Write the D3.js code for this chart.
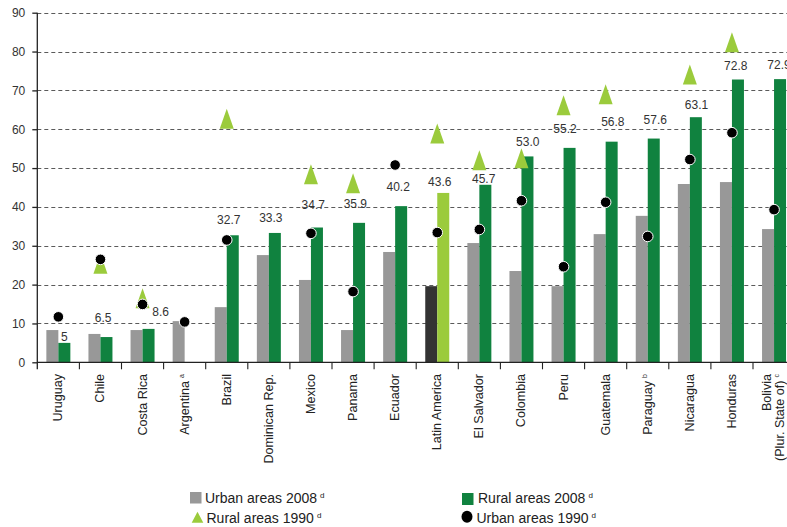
<!DOCTYPE html>
<html>
<head>
<meta charset="utf-8">
<script src="https://cdn.jsdelivr.net/npm/d3@7/dist/d3.min.js"></script>
<style>
  html, body { margin: 0; padding: 0; background: #fff; }
  svg { display: block; font-family: "Liberation Sans", Arial, Helvetica, sans-serif; }
</style>
</head>
<body>
<svg id="chart" width="787" height="527"></svg>
<script>
// Poverty rates by area, 1990 and 2008 (percentages)
const categories = ["Uruguay", "Chile", "Costa Rica", "Argentina", "Brazil", "Dominican Rep.",
  "Mexico", "Panama", "Ecuador", "Latin America", "El Salvador", "Colombia", "Peru",
  "Guatemala", "Paraguay", "Nicaragua", "Honduras", "Bolivia"];

// Axis text for each category (lines and footnote letter)
const categoryLines = [["Uruguay"], ["Chile"], ["Costa Rica"], ["Argentina"], ["Brazil"], ["Dominican Rep."],
  ["Mexico"], ["Panama"], ["Ecuador"], ["Latin America"], ["El Salvador"], ["Colombia"], ["Peru"],
  ["Guatemala"], ["Paraguay"], ["Nicaragua"], ["Honduras"], ["Bolivia", "(Plur. State of)"]];
const categoryNotes = ["", "", "", "a", "", "", "", "", "", "", "", "", "", "", "b", "", "", "c"];

const urban2008 = [8.3, 7.3, 8.3, 10.6, 14.2, 27.6, 21.2, 8.3, 28.4, 19.6, 30.7, 23.5, 19.6, 33.0, 37.7, 45.9, 46.4, 34.3];
const rural2008 = [5, 6.5, 8.6, null, 32.7, 33.3, 34.7, 35.9, 40.2, 43.6, 45.7, 53.0, 55.2, 56.8, 57.6, 63.1, 72.8, 72.9];
const urban1990 = [11.7, 26.5, 14.9, 10.4, 31.5, null, 33.2, 18.2, 50.8, 33.4, 34.2, 41.6, 24.6, 41.2, 32.4, 52.2, 59.1, 39.3];
const rural1990 = [null, 25.4, 16.5, null, 62.7, null, 48.4, 46.1, null, 58.9, 52.0, 52.5, 66.2, 69.0, null, 74.1, 82.4, null];

const yTicks = [0, 10, 20, 30, 40, 50, 60, 70, 80, 90];

// Hand placement of the value labels so they clear the markers: [dx from band centre, lift above bar top]
const labelNudge = [[6, 2.3], [2.7, 15], [18, 13], null, [2, 11], [2, 11.3], [2.3, 19], [2.3, 14.6],
  [3, 15.5], [2.5, 7], [4.3, 2], [6.3, 10], [1.5, 15], [7.2, 16], [7.5, 15], [6.7, 8.5], [3.8, 10], [5, 10]];

const COLORS = {
  urban: "#989898",
  rural: "#10823f",
  urbanLA: "#333333",
  ruralLA: "#9bcb3c",
  tri: "#9bcb3c",
  dot: "#000000",
  grid: "#5a5a5a",
  axis: "#222222",
  text: "#333333"
};

const svg = d3.select("#chart");
const W = 787, H = 527;

const x = d3.scaleBand().domain(categories).range([37.3, 795.1]).paddingInner(0).paddingOuter(0);
const y = d3.scaleLinear().domain([0, 90]).range([362.3, 12.7]);
const barW = 12;
const cx = d => x(d) + x.bandwidth() / 2;

// Dashed horizontal gridlines
svg.append("g").selectAll("line")
  .data(yTicks.filter(t => t > 0))
  .join("line")
  .attr("x1", 37.3).attr("x2", W)
  .attr("y1", d => Math.round(y(d)) + 0.5).attr("y2", d => Math.round(y(d)) + 0.5)
  .attr("stroke", COLORS.grid).attr("stroke-width", 1)
  .attr("stroke-dasharray", "4,3");

// Bars
const rows = categories.map((c, i) => ({ c, i, u: urban2008[i], r: rural2008[i], u90: urban1990[i], r90: rural1990[i] }));
const isLA = d => d.c === "Latin America";

svg.append("g").selectAll("rect.urban")
  .data(rows.filter(d => d.u != null))
  .join("rect")
  .attr("x", d => cx(d.c) - barW)
  .attr("y", d => y(d.u))
  .attr("width", barW)
  .attr("height", d => y(0) - y(d.u))
  .attr("fill", d => isLA(d) ? COLORS.urbanLA : COLORS.urban);

svg.append("g").selectAll("rect.rural")
  .data(rows.filter(d => d.r != null))
  .join("rect")
  .attr("x", d => cx(d.c))
  .attr("y", d => y(d.r))
  .attr("width", barW)
  .attr("height", d => y(0) - y(d.r))
  .attr("fill", d => isLA(d) ? COLORS.ruralLA : COLORS.rural);

// Value labels for rural 2008
svg.append("g").selectAll("text")
  .data(rows.filter(d => d.r != null))
  .join("text")
  .attr("x", d => cx(d.c) + labelNudge[d.i][0])
  .attr("y", d => y(d.r) - labelNudge[d.i][1])
  .attr("text-anchor", "middle")
  .attr("font-size", 12)
  .attr("fill", COLORS.text)
  .text(d => d.r === 5 ? "5" : d3.format(".1f")(d.r));

// Rural 1990 triangles
const triPath = "M0,-10L7,10L-7,10Z";
svg.append("g").selectAll("path")
  .data(rows.filter(d => d.r90 != null))
  .join("path")
  .attr("d", triPath)
  .attr("transform", d => `translate(${cx(d.c)},${y(d.r90)})`)
  .attr("fill", COLORS.tri);

// Urban 1990 dots
svg.append("g").selectAll("circle")
  .data(rows.filter(d => d.u90 != null))
  .join("circle")
  .attr("cx", d => cx(d.c))
  .attr("cy", d => y(d.u90))
  .attr("r", 5.3)
  .attr("fill", COLORS.dot)
  .attr("stroke", "#fff").attr("stroke-width", 1);

// Y axis
const yAxis = d3.axisLeft(y).tickValues(yTicks).tickSize(5).tickPadding(7).tickFormat(d3.format("d"));
const gy = svg.append("g").attr("transform", "translate(37.3,0)").call(yAxis);
gy.select(".domain").remove();
gy.selectAll(".tick line").attr("stroke", COLORS.axis).attr("stroke-width", 1.3);
gy.selectAll(".tick text").attr("font-size", 12).attr("fill", COLORS.text)
  .attr("font-family", "'Liberation Sans', Arial, sans-serif");
svg.append("line")
  .attr("x1", 37.3).attr("x2", 37.3).attr("y1", y(90)).attr("y2", y(0) + 7)
  .attr("stroke", COLORS.axis).attr("stroke-width", 1.3);

// X axis baseline and band ticks
svg.append("line")
  .attr("x1", 37.3).attr("x2", W).attr("y1", y(0)).attr("y2", y(0))
  .attr("stroke", COLORS.axis).attr("stroke-width", 1.3);
const bounds = categories.map(c => x(c)).concat([x.range()[1]]);
svg.append("g").selectAll("line")
  .data(bounds.slice(1))
  .join("line")
  .attr("x1", d => d).attr("x2", d => d)
  .attr("y1", y(0)).attr("y2", y(0) + 7)
  .attr("stroke", COLORS.axis).attr("stroke-width", 1.1);

// Rotated category labels
const labels = svg.append("g").selectAll("text")
  .data(categories.map((c, i) => ({ c, i })))
  .join("text")
  .attr("transform", d => `translate(${cx(d.c)},374) rotate(-90)`)
  .attr("text-anchor", "end")
  .attr("font-size", 12.6)
  .attr("fill", "#222");
labels.each(function (d) {
  const t = d3.select(this);
  const lines = categoryLines[d.i];
  const note = categoryNotes[d.i];
  const offsets = lines.length === 1 ? [4] : [-3.3, 9.5];
  lines.forEach((ln, k) => {
    const ts = t.append("tspan").attr("x", 0).attr("y", offsets[k]).text(ln);
    if (k === lines.length - 1 && note) {
      t.append("tspan").attr("dx", 3).attr("dy", -5).attr("font-size", 7).text(note);
    }
  });
});

// Legend
const legend = svg.append("g").attr("font-size", 14).attr("fill", "#222");
function legendText(xp, yp, label) {
  const t = legend.append("text").attr("x", xp).attr("y", yp);
  t.append("tspan").text(label);
  t.append("tspan").attr("dx", 3).attr("dy", -5).attr("font-size", 8).text("d");
}
legend.append("rect").attr("x", 190).attr("y", 492).attr("width", 11.5).attr("height", 11.5).attr("fill", COLORS.urban);
legendText(205, 503, "Urban areas 2008");
legend.append("rect").attr("x", 462).attr("y", 493).attr("width", 11.5).attr("height", 12).attr("fill", COLORS.rural);
legendText(478, 503, "Rural areas 2008");
legend.append("path").attr("d", "M0,-5.5L5.8,5.5L-5.8,5.5Z").attr("transform", "translate(197.5,517.2)").attr("fill", COLORS.tri);
legendText(206.5, 522.5, "Rural areas 1990");
legend.append("ellipse").attr("cx", 467).attr("cy", 516.7).attr("rx", 5.5).attr("ry", 6).attr("fill", COLORS.dot);
legendText(476.5, 522.5, "Urban areas 1990");
</script>
</body>
</html>
